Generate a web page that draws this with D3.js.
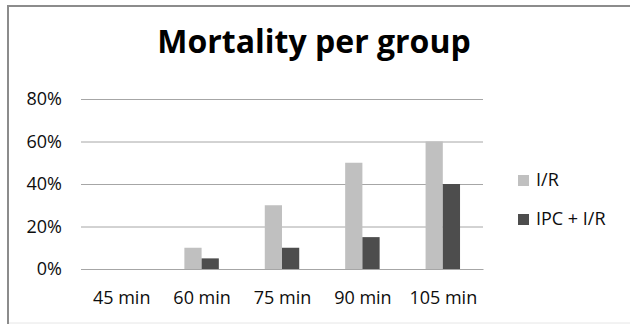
<!DOCTYPE html>
<html>
<head>
<meta charset="utf-8">
<script src="https://cdn.jsdelivr.net/npm/d3@7"></script>
<style>
  body { margin: 0; background: #fff; }
  svg text { font-family: "Open Sans", "Liberation Sans", sans-serif; fill: #0d0d0d; }
</style>
</head>
<body>
<svg id="chart"></svg>
<script>
// data
var groups = ["45 min", "60 min", "75 min", "90 min", "105 min"]
var seriesNames = ["I/R", "IPC + I/R"]
var irValues = [0, 0.10, 0.30, 0.50, 0.60]
var ipcValues = [0, 0.05, 0.10, 0.15, 0.40]
var yTicks = [0, 0.2, 0.4, 0.6, 0.8]
var colors = ["#c0c0c0", "#4d4d4d"]

var dimensions = {
    width: 630,
    height: 324,
    margin: { top: 99, bottom: 55, right: 147, left: 81 }
}
dimensions.boundedWidth = dimensions.width - dimensions.margin.left - dimensions.margin.right
dimensions.boundedHeight = dimensions.height - dimensions.margin.top - dimensions.margin.bottom

var svg = d3.select("#chart")
    .attr("width", dimensions.width)
    .attr("height", dimensions.height)

// chart frame
svg.append("line").attr("x1", 7).attr("x2", 630).attr("y1", 6).attr("y2", 6)
    .attr("stroke", "#8c8c8c").attr("stroke-width", 2)
svg.append("line").attr("x1", 8).attr("x2", 8).attr("y1", 5).attr("y2", 324)
    .attr("stroke", "#8c8c8c").attr("stroke-width", 2)
svg.append("line").attr("x1", 9).attr("x2", 630).attr("y1", 323).attr("y2", 323)
    .attr("stroke", "#e6e6e6").attr("stroke-width", 1)

// title
svg.append("text")
    .attr("x", 314)
    .attr("y", 53)
    .attr("text-anchor", "middle")
    .style("font-size", "32px")
    .style("font-weight", "bold")
    .style("fill", "#000")
    .text("Mortality per group")

var bounds = svg.append("g")
    .attr("transform", "translate(" + dimensions.margin.left + "," + dimensions.margin.top + ")")

var xScale = d3.scaleBand()
    .domain(groups)
    .range([0, dimensions.boundedWidth])
    .paddingInner(0.5714)
    .paddingOuter(0.2857)

var xInner = d3.scaleBand()
    .domain(seriesNames)
    .range([0, xScale.bandwidth()])

var yScale = d3.scaleLinear()
    .domain([0, 0.8])
    .range([dimensions.boundedHeight, 0])

// gridlines
var yAxis = bounds.append("g")
    .call(d3.axisLeft(yScale).tickValues(yTicks).tickSize(-dimensions.boundedWidth)
        .tickFormat(d3.format(".0%")).tickPadding(19))
yAxis.select(".domain").remove()
yAxis.selectAll("line").attr("stroke", "#a6a6a6")
yAxis.selectAll("text").style("font-size", "18px").attr("fill", "#0d0d0d")

var xAxis = bounds.append("g")
    .attr("transform", "translate(0," + dimensions.boundedHeight + ")")
    .call(d3.axisBottom(d3.scalePoint().domain(groups).range([0, dimensions.boundedWidth]).padding(0.5))
        .tickSize(0).tickPadding(22))
xAxis.select(".domain").attr("stroke", "#a6a6a6")
xAxis.selectAll("text").style("font-size", "18px").attr("fill", "#0d0d0d")

var rows = groups.map(function (g, i) {
    return { group: g, values: [irValues[i], ipcValues[i]] }
})

bounds.selectAll(".grp")
    .data(rows)
    .enter()
    .append("g")
    .attr("class", "grp")
    .attr("transform", function (d) { return "translate(" + xScale(d.group) + ",0)" })
    .selectAll("rect")
    .data(function (d) { return d.values.map(function (v, j) { return { name: seriesNames[j], value: v, idx: j } }) })
    .enter()
    .append("rect")
    .attr("x", function (d) { return xInner(d.name) })
    .attr("width", xInner.bandwidth())
    .attr("y", function (d) { return yScale(d.value) })
    .attr("height", function (d) { return dimensions.boundedHeight - yScale(d.value) })
    .attr("fill", function (d) { return colors[d.idx] })

// legend
var legend = svg.append("g").attr("transform", "translate(518,0)")
seriesNames.forEach(function (name, i) {
    var top = 175 + i * 39
    legend.append("rect").attr("x", 0).attr("y", top).attr("width", 11).attr("height", 11).attr("fill", colors[i])
    legend.append("text").attr("x", 18).attr("y", top + 11)
        .style("font-size", "18px").text(name)
})
</script>
</body>
</html>
